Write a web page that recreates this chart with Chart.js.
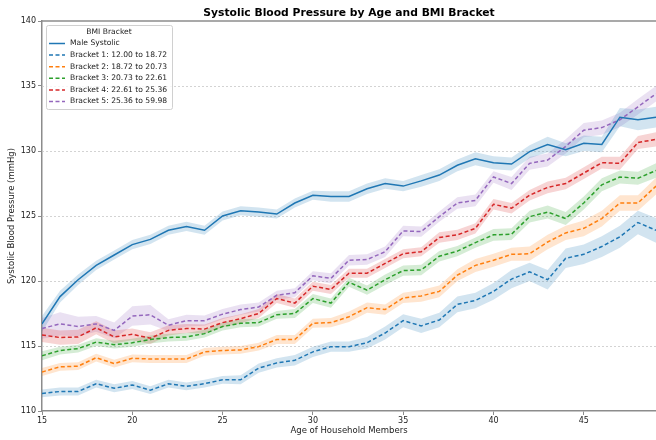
<!DOCTYPE html>
<html>
<head>
<meta charset="utf-8">
<script src="https://cdn.jsdelivr.net/npm/chart.js@4"></script>
<style>
  html, body { margin: 0; padding: 0; background: #fff; }
  #wrap { width: 656px; height: 440px; }
</style>
</head>
<body>
<div id="wrap"><canvas id="chart" width="656" height="440"></canvas></div>
<script>
const ages = [15, 16, 17, 18, 19, 20, 21, 22, 23, 24, 25, 26, 27, 28, 29, 30, 31, 32,
  33, 34, 35, 36, 37, 38, 39, 40, 41, 42, 43, 44, 45, 46, 47, 48, 49];

const seriesLabels = [
  "Male Systolic",
  "Bracket 1: 12.00 to 18.72",
  "Bracket 2: 18.72 to 20.73",
  "Bracket 3: 20.73 to 22.61",
  "Bracket 4: 22.61 to 25.36",
  "Bracket 5: 25.36 to 59.98"
];

// mean systolic pressure per age
const maleSystolic = [116.7, 118.8, 120.1, 121.2, 122.0, 122.8, 123.2, 123.9, 124.2, 123.9, 125.0, 125.4,
  125.3, 125.15, 126.0, 126.6, 126.5, 126.5, 127.1, 127.5, 127.3, 127.7, 128.15, 128.9, 129.4, 129.1,
  129.0, 129.95, 130.5, 130.1, 130.6, 130.5, 132.6, 132.4, 132.6];
const bracket1 = [111.35, 111.5, 111.5, 112.1, 111.75, 112.0, 111.6, 112.1, 111.9, 112.1, 112.4, 112.4,
  113.3, 113.7, 113.9, 114.55, 114.95, 114.95, 115.25, 116.0, 116.95, 116.55, 117.0, 118.2, 118.5, 119.2,
  120.15, 120.7, 120.1, 121.75, 122.05, 122.65, 123.4, 124.5, 123.9];
const bracket2 = [113.0, 113.4, 113.45, 114.1, 113.65, 114.05, 114.0, 114.0, 114.0, 114.55, 114.65, 114.7,
  114.95, 115.5, 115.5, 116.75, 116.8, 117.25, 117.95, 117.8, 118.7, 118.85, 119.2, 120.45, 121.2, 121.6,
  122.05, 122.1, 123.0, 123.7, 124.05, 124.8, 126.0, 126.0, 127.3];
const bracket3 = [114.25, 114.65, 114.8, 115.3, 115.1, 115.25, 115.5, 115.65, 115.7, 115.95, 116.5, 116.75,
  116.8, 117.4, 117.5, 118.65, 118.3, 119.9, 119.3, 120.1, 120.8, 120.85, 121.9, 122.3, 122.95, 123.55,
  123.6, 124.95, 125.3, 124.8, 126.0, 127.4, 128.0, 127.9, 128.5];
const bracket4 = [115.85, 115.65, 115.7, 116.4, 115.7, 115.9, 115.6, 116.2, 116.35, 116.3, 116.8, 117.1,
  117.5, 118.65, 118.3, 119.6, 119.35, 120.6, 120.6, 121.35, 122.1, 122.25, 123.35, 123.55, 124.05, 125.9,
  125.6, 126.6, 127.2, 127.5, 128.3, 129.1, 129.05, 130.65, 130.9];
const bracket5 = [116.35, 116.7, 116.5, 116.7, 116.2, 117.3, 117.4, 116.6, 116.95, 116.95, 117.45, 117.8,
  118.0, 118.9, 119.1, 120.4, 120.2, 121.6, 121.65, 122.25, 123.85, 123.8, 124.95, 126.0, 126.2, 128.0,
  127.5, 129.05, 129.3, 130.35, 131.6, 131.8, 132.4, 133.4, 134.4];

// half width of the confidence band per age
const maleCI = [0.6, 0.45, 0.4, 0.35, 0.35, 0.35, 0.35, 0.35, 0.35, 0.35, 0.35, 0.35, 0.35, 0.35, 0.35, 0.35,
  0.4, 0.4, 0.4, 0.4, 0.4, 0.45, 0.45, 0.45, 0.5, 0.5, 0.5, 0.5, 0.6, 0.5, 0.6, 0.6, 0.7, 0.8, 0.8];
const bracket1CI = [0.3, 0.3, 0.3, 0.3, 0.3, 0.3, 0.3, 0.3, 0.3, 0.3, 0.3, 0.35, 0.35, 0.35, 0.4, 0.4, 0.4,
  0.4, 0.45, 0.5, 0.5, 0.55, 0.55, 0.6, 0.6, 0.65, 0.7, 0.7, 0.75, 0.75, 0.75, 0.8, 0.85, 0.9, 0.95];
const bracket2CI = [0.3, 0.3, 0.3, 0.3, 0.3, 0.3, 0.3, 0.3, 0.3, 0.3, 0.3, 0.3, 0.3, 0.35, 0.35, 0.35, 0.35,
  0.4, 0.4, 0.4, 0.4, 0.45, 0.45, 0.45, 0.5, 0.5, 0.5, 0.55, 0.55, 0.55, 0.6, 0.6, 0.6, 0.6, 0.65];
const bracket3CI = [0.35, 0.3, 0.3, 0.3, 0.3, 0.3, 0.3, 0.3, 0.3, 0.3, 0.3, 0.3, 0.3, 0.3, 0.35, 0.35, 0.35,
  0.35, 0.35, 0.4, 0.4, 0.4, 0.4, 0.4, 0.4, 0.45, 0.45, 0.45, 0.5, 0.5, 0.5, 0.5, 0.5, 0.5, 0.55];
const bracket4CI = [0.55, 0.55, 0.55, 0.5, 0.5, 0.45, 0.45, 0.4, 0.35, 0.35, 0.35, 0.35, 0.35, 0.35, 0.35,
  0.35, 0.35, 0.35, 0.35, 0.35, 0.35, 0.35, 0.4, 0.4, 0.4, 0.4, 0.4, 0.4, 0.45, 0.45, 0.45, 0.45, 0.5, 0.5, 0.55];
const bracket5CI = [0.8, 0.9, 0.75, 0.6, 0.6, 0.75, 0.75, 0.45, 0.45, 0.4, 0.4, 0.4, 0.35, 0.35, 0.35, 0.35,
  0.4, 0.4, 0.4, 0.4, 0.4, 0.4, 0.4, 0.45, 0.45, 0.45, 0.5, 0.5, 0.5, 0.55, 0.55, 0.55, 0.55, 0.6, 0.6];

const yTicks = [110, 115, 120, 125, 130, 135, 140];
const xTicks = [15, 20, 25, 30, 35, 40, 45];

const seriesValues = [maleSystolic, bracket1, bracket2, bracket3, bracket4, bracket5];
const seriesCI = [maleCI, bracket1CI, bracket2CI, bracket3CI, bracket4CI, bracket5CI];
const colors = ["#1f77b4", "#1f77b4", "#ff7f0e", "#2ca02c", "#d62728", "#9467bd"];
const FONT = "'DejaVu Sans', sans-serif";
const SPINE = "#8c8c8c";

function rgba(hex, a) {
  const n = parseInt(hex.slice(1), 16);
  return `rgba(${n >> 16},${(n >> 8) & 255},${n & 255},${a})`;
}

const datasets = [];
seriesValues.forEach((vals, i) => {
  const ci = seriesCI[i];
  datasets.push({
    label: "_upper" + i,
    data: ages.map((a, k) => ({ x: a, y: vals[k] + ci[k] })),
    borderWidth: 0, pointRadius: 0, fill: false, order: 2
  });
  datasets.push({
    label: "_lower" + i,
    data: ages.map((a, k) => ({ x: a, y: vals[k] - ci[k] })),
    borderWidth: 0, pointRadius: 0, fill: "-1",
    backgroundColor: rgba(colors[i], 0.2), order: 2
  });
});
seriesValues.forEach((vals, i) => {
  datasets.push({
    label: seriesLabels[i],
    data: ages.map((a, k) => ({ x: a, y: vals[k] })),
    borderColor: colors[i],
    borderWidth: 1.5,
    borderDash: i === 0 ? [] : [4, 2.5],
    pointRadius: 0, fill: false, tension: 0, order: 1
  });
});

// matplotlib style bits: dotted grid, top spine, title and inset legend
const mplDecor = {
  id: "mplDecor",
  beforeDatasetsDraw(chart) {
    const { ctx, chartArea: a, scales } = chart;
    ctx.save();
    ctx.strokeStyle = "#c8c8c8";
    ctx.lineWidth = 0.8;
    ctx.setLineDash([2, 2]);
    yTicks.slice(1, -1).forEach(v => {
      const y = Math.round(scales.y.getPixelForValue(v)) + 0.5;
      ctx.beginPath();
      ctx.moveTo(a.left, y);
      ctx.lineTo(a.right, y);
      ctx.stroke();
    });
    ctx.restore();
  },
  afterDraw(chart) {
    const { ctx, chartArea: a } = chart;
    ctx.save();
    ctx.strokeStyle = SPINE;
    ctx.lineWidth = 1.5;
    ctx.beginPath();
    ctx.moveTo(a.left, a.top);
    ctx.lineTo(a.right, a.top);
    ctx.stroke();

    ctx.fillStyle = "#000";
    ctx.font = "bold 10.75px " + FONT;
    ctx.textAlign = "center";
    ctx.textBaseline = "middle";
    ctx.fillText("Systolic Blood Pressure by Age and BMI Bracket", (a.left + a.right) / 2, 13);

    // legend
    const bx = 46, by = 25, bw = 126, bh = 84;
    ctx.fillStyle = "rgba(255,255,255,0.8)";
    ctx.strokeStyle = "#d0d0d0";
    ctx.lineWidth = 1;
    ctx.beginPath();
    ctx.roundRect(bx + 0.5, by + 0.5, bw, bh, 2);
    ctx.fill();
    ctx.stroke();
    ctx.fillStyle = "#222";
    ctx.font = "7.6px " + FONT;
    ctx.fillText("BMI Bracket", bx + bw / 2, by + 7);
    ctx.textAlign = "left";
    seriesLabels.forEach((lab, i) => {
      const y = by + 18.5 + i * 11.6;
      ctx.strokeStyle = colors[i];
      ctx.lineWidth = 1.5;
      ctx.setLineDash(i === 0 ? [] : [4, 2.5]);
      ctx.beginPath();
      ctx.moveTo(bx + 3, y);
      ctx.lineTo(bx + 19, y);
      ctx.stroke();
      ctx.fillText(lab, bx + 24, y);
    });
    ctx.restore();
  }
};

new Chart(document.getElementById("chart").getContext("2d"), {
  type: "line",
  data: { datasets },
  plugins: [mplDecor],
  options: {
    responsive: false,
    animation: false,
    layout: { padding: { top: 21, right: 0, left: 0, bottom: 0 } },
    plugins: {
      legend: { display: false },
      title: { display: false },
      tooltip: { enabled: false }
    },
    scales: {
      x: {
        type: "linear",
        min: 15,
        max: 49,
        afterBuildTicks: s => { s.ticks = xTicks.map(v => ({ value: v })); },
        ticks: { font: { family: FONT, size: 8 }, color: "#222", padding: 1, maxRotation: 0 },
        grid: { drawOnChartArea: false, tickLength: 4, color: SPINE },
        border: { display: true, color: SPINE, width: 1.5 },
        title: { display: true, text: "Age of Household Members", font: { family: FONT, size: 8.5 }, color: "#222", padding: { top: 4, bottom: 4 } },
        afterFit: s => { s.height = 29; }
      },
      y: {
        min: 110,
        max: 140,
        afterBuildTicks: s => { s.ticks = yTicks.map(v => ({ value: v })); },
        ticks: { font: { family: FONT, size: 8 }, color: "#222", padding: 2 },
        grid: { drawOnChartArea: false, tickLength: 4, color: SPINE },
        border: { display: true, color: SPINE, width: 1.5 },
        title: { display: true, text: "Systolic Blood Pressure (mmHg)", font: { family: FONT, size: 8.5 }, color: "#222", padding: { top: 7, bottom: 0 } },
        afterFit: s => { s.width = 42; }
      }
    }
  }
});
</script>
</body>
</html>
